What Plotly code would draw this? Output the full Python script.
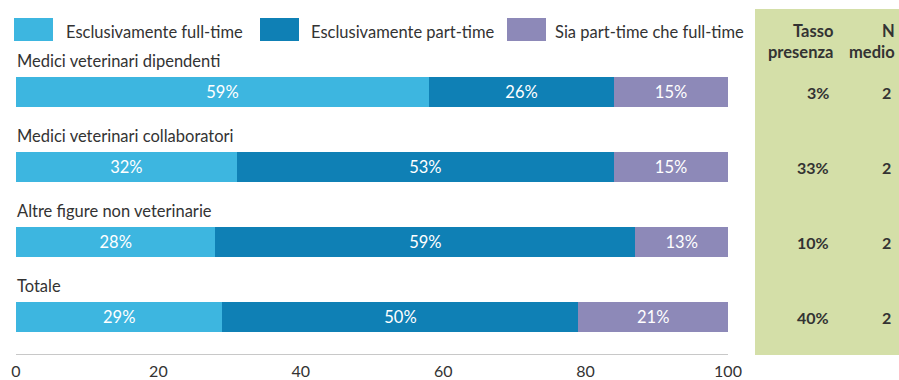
import plotly.graph_objects as go

categories = ["Medici veterinari dipendenti", "Medici veterinari collaboratori",
              "Altre figure non veterinarie", "Totale"]
series_names = ["Esclusivamente full-time", "Esclusivamente part-time", "Sia part-time che full-time"]
full_time = [58, 31, 28, 29]
part_time = [26, 53, 59, 50]
both = [16, 16, 13, 21]
full_time_lbl = ["59%", "32%", "28%", "29%"]
part_time_lbl = ["26%", "53%", "59%", "50%"]
both_lbl = ["15%", "15%", "13%", "21%"]
tasso = ["3%", "33%", "10%", "40%"]
n_medio = ["2", "2", "2", "2"]
tick_vals = [0, 20, 40, 60, 80, 100]

colors = ["#3db6e0", "#0f80b5", "#8d89b8"]
W, H = 899, 380
FONT = "Lato"
TXT = "#333333"

def px(x):
    return x / W

def py(y):
    return 1 - y / H

fig = go.Figure()
idx = list(range(len(categories)))
for vals, lbls, name, c in zip([full_time, part_time, both],
                               [full_time_lbl, part_time_lbl, both_lbl],
                               series_names, colors):
    fig.add_trace(go.Bar(
        x=vals, y=idx, orientation="h", name=name, marker=dict(color=c, line=dict(width=0)),
        width=0.4, text=lbls, textposition="inside", insidetextanchor="middle",
        textfont=dict(color="white", size=16.5, family=FONT, weight=400), constraintext="none",
        hoverinfo="skip", showlegend=False))

# category labels above bars
for i, cat in enumerate(categories):
    fig.add_annotation(x=0, y=i - 0.41, xref="x", yref="y", text=cat, showarrow=False,
                       xanchor="left", yanchor="middle", xshift=-1,
                       font=dict(size=16.5, color=TXT, family=FONT))

# green panel
fig.add_shape(type="rect", xref="paper", yref="paper", x0=px(755), x1=1.0,
              y0=py(355), y1=py(9), fillcolor="#d4dfa8", line=dict(width=0), layer="below")
fig.add_annotation(xref="paper", yref="paper", x=px(835), y=py(41), text="<b>Tasso<br>presenza</b>",
                   showarrow=False, xanchor="right", yanchor="middle", align="right",
                   font=dict(size=16.5, color=TXT, family=FONT))
fig.add_annotation(xref="paper", yref="paper", x=px(897), y=py(41), text="<b>N<br>medio</b>",
                   showarrow=False, xanchor="right", yanchor="middle", align="right",
                   font=dict(size=16.5, color=TXT, family=FONT))
for i in idx:
    fig.add_annotation(xref="paper", yref="y", x=px(831), y=i, text=f"<b>{tasso[i]}</b>",
                       showarrow=False, xanchor="right", yanchor="middle",
                       font=dict(size=16, color=TXT, family=FONT))
    fig.add_annotation(xref="paper", yref="y", x=px(893), y=i, text=f"<b>{n_medio[i]}</b>",
                       showarrow=False, xanchor="right", yanchor="middle",
                       font=dict(size=16, color=TXT, family=FONT))

# custom legend
leg = [(14, 64), (260, 309), (507, 553)]
for (sx, tx), name, c in zip(leg, series_names, colors):
    fig.add_shape(type="rect", xref="paper", yref="paper", x0=px(sx), x1=px(sx + 39),
                  y0=py(41), y1=py(18), fillcolor=c, line=dict(width=0))
    fig.add_annotation(xref="paper", yref="paper", x=px(tx), y=py(32), text=name,
                       showarrow=False, xanchor="left", yanchor="middle",
                       font=dict(size=16.5, color=TXT, family=FONT))

fig.update_layout(
    width=W, height=H, barmode="stack", margin=dict(l=0, r=0, t=0, b=0, autoexpand=False),
    paper_bgcolor="white", plot_bgcolor="white", showlegend=False,
    font=dict(family=FONT, color=TXT),
    xaxis=dict(domain=[px(16), px(728)], range=[0, 100], tickvals=tick_vals, automargin=False,
               showgrid=False, zeroline=False, showline=True, linecolor="#c8c8c8", linewidth=1,
               ticks="", tickfont=dict(size=16, color=TXT, family=FONT, weight=400),
               ticklabelstandoff=3),
    yaxis=dict(domain=[py(354), py(17)], range=[3.4933, -1], showgrid=False, zeroline=False,
               automargin=False, showticklabels=False, showline=False),
)

fig.write_html("out.html")
